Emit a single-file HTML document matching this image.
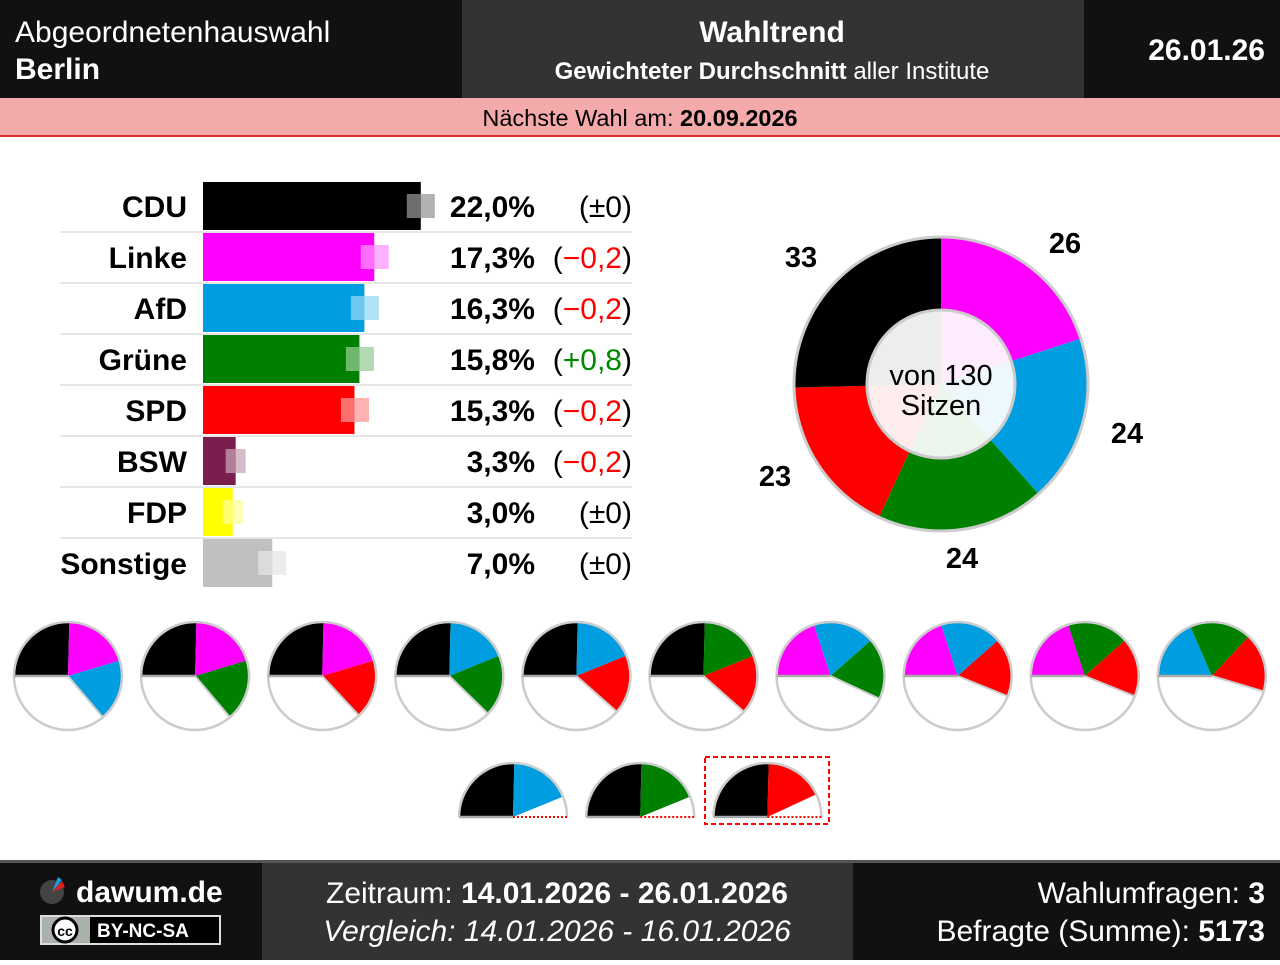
<!DOCTYPE html>
<html><head><meta charset="utf-8"><style>
body{margin:0;width:1280px;height:960px;overflow:hidden;background:#fff;font-family:"Liberation Sans",sans-serif}
</style></head><body>
<svg width="1280" height="960" xmlns="http://www.w3.org/2000/svg" font-family="Liberation Sans, sans-serif">
<rect x="0" y="0" width="1280" height="98" fill="#111"/>
<rect x="462" y="0" width="622" height="98" fill="#333"/>
<text x="15" y="42" font-size="30" fill="#fff">Abgeordnetenhauswahl</text>
<text x="15" y="79" font-size="30" fill="#fff" font-weight="bold">Berlin</text>
<text x="772" y="42" font-size="30" fill="#fff" font-weight="bold" text-anchor="middle">Wahltrend</text>
<text x="772" y="79" font-size="24" fill="#fff" text-anchor="middle"><tspan font-weight="bold">Gewichteter Durchschnitt</tspan> aller Institute</text>
<text x="1265" y="60" font-size="30" fill="#fff" font-weight="bold" text-anchor="end">26.01.26</text>
<rect x="0" y="98" width="1280" height="38" fill="#f4aaaa"/>
<rect x="0" y="135" width="1280" height="2" fill="#e03030"/>
<text x="640" y="126" font-size="23.5" fill="#000" text-anchor="middle">Nächste Wahl am: <tspan font-weight="bold">20.09.2026</tspan></text>
<g id="bars" font-size="30"></g>
<g id="pies"></g>
<rect x="0" y="860" width="1280" height="100" fill="#111"/>
<rect x="0" y="860" width="1280" height="3" fill="#555"/>
<rect x="262" y="863" width="591" height="97" fill="#333"/>
<circle cx="52" cy="892" r="12" fill="#444"/>
<path d="M52,892 L58,877 L62,880Z" fill="#1aa0e0"/><path d="M52,892 L62,881 L65,887Z" fill="#e02020"/>
<text x="76" y="902" font-size="30" fill="#fff" font-weight="bold">dawum.de</text>
<rect x="41" y="916" width="179" height="28" fill="#000" stroke="#ddd" stroke-width="2"/>
<rect x="42" y="917" width="48" height="26" fill="#aab0aa"/>
<circle cx="65" cy="930" r="12" fill="#fff" stroke="#000" stroke-width="3"/>
<text x="65" y="936" font-size="14" font-weight="bold" text-anchor="middle">cc</text>
<text x="97" y="937" font-size="19" fill="#fff" font-weight="bold">BY-NC-SA</text>
<text x="557" y="903" font-size="30" fill="#fff" text-anchor="middle">Zeitraum: <tspan font-weight="bold">14.01.2026 - 26.01.2026</tspan></text>
<text x="557" y="941" font-size="30" fill="#fff" text-anchor="middle" font-style="italic">Vergleich: 14.01.2026 - 16.01.2026</text>
<text x="1265" y="903" font-size="30" fill="#fff" text-anchor="end">Wahlumfragen: <tspan font-weight="bold">3</tspan></text>
<text x="1265" y="941" font-size="30" fill="#fff" text-anchor="end">Befragte (Summe): <tspan font-weight="bold">5173</tspan></text>
</svg>
<script>
const parties=[["CDU","#000",22.0,22.0,"(±0)","#000"],["Linke","#f0f",17.3,17.35,"(−0,2)","#f00"],["AfD","#009ee0",16.3,16.35,"(−0,2)","#f00"],["Grüne","#008000",15.8,15.85,"(+0,8)","#080"],["SPD","#f00",15.3,15.35,"(−0,2)","#f00"],["BSW","#7a1e4e",3.3,3.3,"(−0,2)","#f00"],["FDP","#ff0",3.0,3.0,"(±0)","#000"],["Sonstige","#c0c0c0",7.0,7.0,"(±0)","#000"]];
let h="";
parties.forEach((p,i)=>{const y=182+i*51;const w=p[2]*9.9;const m=203+p[3]*9.9;const hw=i>=5&&i<7?10:14;
h+=`<rect x="203" y="${y}" width="${w}" height="48" fill="${p[1]}"/>`;
h+=`<rect x="${m-hw}" y="${y+12}" width="${2*hw}" height="24" fill="${p[1]}" opacity="0.3"/>`;
const ie=Math.min(203+w,m+hw);if(ie>m-hw)h+=`<rect x="${m-hw}" y="${y+12}" width="${ie-(m-hw)}" height="24" fill="#fff" opacity="0.43"/>`;
h+=`<text x="187" y="${y+35}" text-anchor="end" font-weight="bold">${p[0]}</text>`;
h+=`<text x="535" y="${y+35}" text-anchor="end" font-weight="bold">${p[2].toFixed(1).replace(".",",")}%</text>`;
const c=p[4];h+=`<text x="632" y="${y+35}" text-anchor="end">(<tspan fill="${p[5]}">${c.slice(1,-1)}</tspan>)</text>`;
if(i<7)h+=`<line x1="60" x2="632" y1="${y+50}" y2="${y+50}" stroke="#ccc" stroke-width="1"/>`;});
document.getElementById("bars").innerHTML=h;
function pt(cx,cy,r,a){return [cx-r*Math.cos(a*Math.PI/180),cy-r*Math.sin(a*Math.PI/180)];}
function sector(cx,cy,r,a0,a1,col){const p0=pt(cx,cy,r,a0),p1=pt(cx,cy,r,a1);const l=(a1-a0)>180?1:0;
return `<path d="M${cx},${cy}L${p0[0]},${p0[1]}A${r},${r} 0 ${l} 1 ${p1[0]},${p1[1]}Z" fill="${col}"/>`;}
const S={CDU:[33,"#000"],Linke:[26,"#f0f"],AfD:[24,"#009ee0"],"Grüne":[24,"#008000"],SPD:[23,"#f00"]};
let out="";
let a=90;["Linke","AfD","Grüne","SPD","CDU"].forEach(k=>{const d=S[k][0]/130*360;out+=sector(941,384,147,a,a+d,S[k][1]);a+=d;});
out+=`<circle cx="941" cy="384" r="147" fill="none" stroke="#ccc" stroke-width="3"/>`;
out+=`<circle cx="941" cy="384" r="74" fill="#fff" fill-opacity="0.93" stroke="#ccc" stroke-width="3"/>`;
out+=`<text x="941" y="385" font-size="29" text-anchor="middle">von 130</text><text x="941" y="415" font-size="29" text-anchor="middle">Sitzen</text>`;
[[801,267,"33"],[1065,253,"26"],[1127,443,"24"],[962,568,"24"],[775,486,"23"]].forEach(t=>out+=`<text x="${t[0]}" y="${t[1]}" font-size="29" font-weight="bold" text-anchor="middle">${t[2]}</text>`);
const combos=[["CDU","Linke","AfD"],["CDU","Linke","Grüne"],["CDU","Linke","SPD"],["CDU","AfD","Grüne"],["CDU","AfD","SPD"],["CDU","Grüne","SPD"],["Linke","AfD","Grüne"],["Linke","AfD","SPD"],["Linke","Grüne","SPD"],["AfD","Grüne","SPD"]];
combos.forEach((c,i)=>{const cx=68+i*127.1,cy=676,r=54;out+=`<circle cx="${cx}" cy="${cy}" r="${r}" fill="#fff"/>`;let a=0;
c.forEach(k=>{const d=S[k][0]/130*360;out+=sector(cx,cy,r,a,a+d,S[k][1]);a+=d;});
const e=pt(cx,cy,r,a);out+=`<line x1="${cx}" y1="${cy}" x2="${e[0]}" y2="${e[1]}" stroke="#ccc" stroke-width="2"/>`;
out+=`<circle cx="${cx}" cy="${cy}" r="${r}" fill="none" stroke="#ccc" stroke-width="2.5"/><line x1="${cx-r}" y1="${cy}" x2="${cx}" y2="${cy}" stroke="#aaa" stroke-width="2.5"/>`;});
[["CDU","AfD"],["CDU","Grüne"],["CDU","SPD"]].forEach((c,i)=>{const cx=513+i*127.2,cy=817,r=54;
out+=`<path d="M${cx-r},${cy}A${r},${r} 0 0 1 ${cx+r},${cy}Z" fill="#fff"/>`;let a=0;
c.forEach(k=>{const d=S[k][0]/130*360;out+=sector(cx,cy,r,a,a+d,S[k][1]);a+=d;});
out+=`<path d="M${cx-r},${cy}A${r},${r} 0 0 1 ${cx+r},${cy}" fill="none" stroke="#ccc" stroke-width="2.5"/>`;
out+=`<line x1="${cx-r}" y1="${cy}" x2="${cx}" y2="${cy}" stroke="#aaa" stroke-width="2.5"/><line x1="${cx}" y1="${cy}" x2="${cx+r}" y2="${cy}" stroke="#f00" stroke-width="2" stroke-dasharray="2,2"/>`;});
out+=`<rect x="705" y="757" width="124" height="67" fill="none" stroke="#f00" stroke-width="2" stroke-dasharray="5,3"/>`;
document.getElementById("pies").innerHTML=out;
</script>
</body></html>
